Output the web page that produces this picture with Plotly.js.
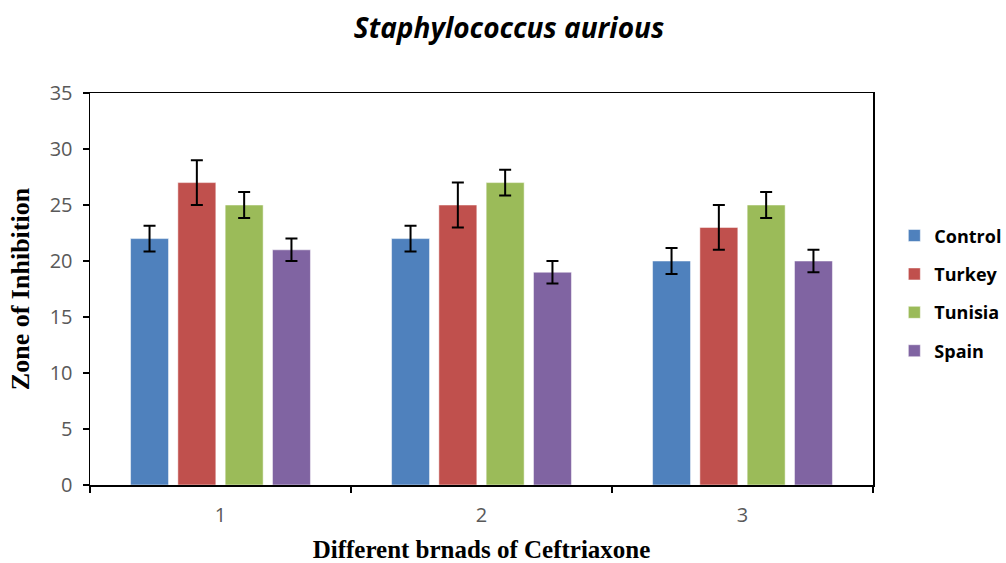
<!DOCTYPE html>
<html><head><meta charset="utf-8">
<script src="https://cdn.plot.ly/plotly-3.0.1.min.js"></script>
<style>body{margin:0;background:#fff}#c{width:1006px;height:563px}</style>
</head><body><div id="c"></div>
<script>
const categories = ["1", "2", "3"];
const seriesNames = ["Control", "Turkey", "Tunisia", "Spain"];
const control = [22, 22, 20];
const turkey = [27, 25, 23];
const tunisia = [25, 27, 25];
const spain = [21, 19, 20];
const controlErr = [1.15, 1.15, 1.15];
const turkeyErr = [2, 2, 2];
const tunisiaErr = [1.15, 1.15, 1.15];
const spainErr = [1, 1, 1];
const colors = ["#4F81BD", "#C0504D", "#9BBB59", "#8064A2"];

const vals = [control, turkey, tunisia, spain];
const errs = [controlErr, turkeyErr, tunisiaErr, spainErr];
const traces = seriesNames.map((n, i) => ({
  type: "bar", name: n, x: categories, y: vals[i],
  legendgroup: n,
  marker: {color: colors[i], line: {color: "rgba(255,255,255,0.5)", width: 1}},
  error_y: {type: "data", array: errs[i], visible: true, color: "#000", thickness: 2, width: 6}
}));

const layout = {
  width: 1006, height: 563,
  margin: {l: 90, r: 133, t: 93, b: 78},
  paper_bgcolor: "#fff", plot_bgcolor: "#fff",
  title: {text: "<b><i>Staphylococcus aurious</i></b>", x: 0.506, xanchor: "center", y: 0.95, yanchor: "middle",
          font: {family: "Open Sans", size: 28, color: "#000"}},
  barmode: "group", bargap: 0.275, bargroupgap: 0.197,
  xaxis: {type: "category", showline: true, linecolor: "#000", linewidth: 1.5, mirror: true,
          ticks: "outside", tickson: "boundaries", ticklen: 6, tickcolor: "#000", tickwidth: 1.5,
          ticklabelstandoff: 11,
          tickfont: {family: "Open Sans", size: 20, color: "#595959"},
          title: {text: "<b>Different brnads of Ceftriaxone</b>", font: {family: "Liberation Serif", size: 25, color: "#000"}, standoff: 24}},
  yaxis: {range: [0, 35], dtick: 5, showgrid: false, zeroline: false, showline: true, linecolor: "#000", linewidth: 1.5, mirror: true,
          ticks: "outside", ticklen: 6, tickcolor: "#000", tickwidth: 1.5,
          ticklabelstandoff: 6,
          tickfont: {family: "Open Sans", size: 20, color: "#595959"},
          title: {text: "<b>Zone of Inhibition</b>", font: {family: "Liberation Serif", size: 26, color: "#000"}, standoff: 12}},
  legend: {xref: "container", yref: "container", x: 0.889, y: 0.479, xanchor: "left", yanchor: "middle", tracegroupgap: 12,
           font: {family: "Open Sans", size: 18, color: "#000", weight: "bold"}, itemwidth: 30}
};
Plotly.newPlot("c", traces, layout, {displayModeBar: false, staticPlot: true});
</script></body></html>
